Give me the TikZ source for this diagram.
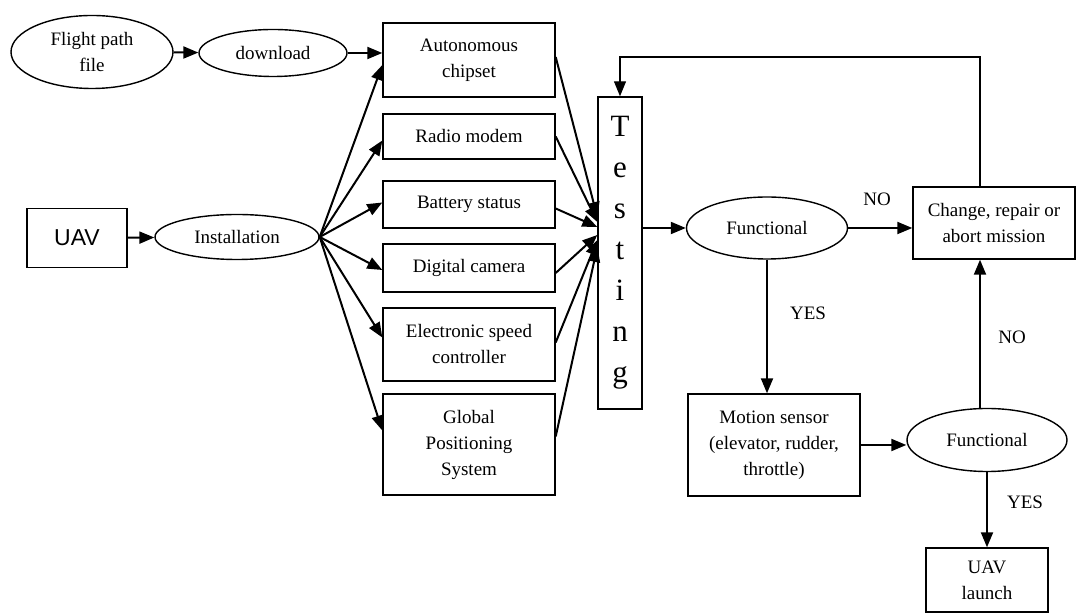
\documentclass[tikz,border=0pt]{standalone}
\usepackage{fontspec}
\setmainfont{Liberation Serif}
\newfontfamily\uavfont{Liberation Sans}
\usetikzlibrary{shapes.geometric,arrows.meta}
\begin{document}
\begin{tikzpicture}[x=0.5pt,y=-0.5pt,
  font=\fontsize{9.5}{13}\selectfont,
  box/.style={draw,line width=0.7pt,align=center,minimum width=86pt,inner sep=1pt},
  oval/.style={draw,ellipse,line width=0.7pt,align=center,inner sep=0pt},
  arr/.style={line width=1pt,-{Triangle[length=7.5pt,width=6pt]}},
  fbline/.style={line width=0.6pt,-{Triangle[length=7.5pt,width=6pt]}}]
\useasboundingbox (0,0) rectangle (1076,613);
% inputs
\node[oval,minimum width=81pt,minimum height=36.5pt] (flight) at (92,52) {Flight path\\file};
\node[oval,minimum width=74pt,minimum height=23.5pt] (download) at (273,53) {download};
\node[draw,line width=0.7pt,minimum width=50pt,minimum height=29.5pt,font=\uavfont\fontsize{11.5}{13}\selectfont] (uav) at (77,238) {UAV};
\node[oval,minimum width=82pt,minimum height=22.5pt] (install) at (237,237) {Installation};
% components
\node[box,minimum height=37pt] (chip) at (469,60) {Autonomous\\chipset};
\node[box,minimum height=22.5pt] (radio) at (469,136.5) {Radio modem};
\node[box,minimum height=23.5pt] (battery) at (469,204.5) {Battery status};
\node[box,minimum height=24pt] (camera) at (469,268) {Digital camera};
\node[box,minimum height=36.5pt] (esc) at (469,344.5) {Electronic speed\\controller};
\node[box,minimum height=50.5pt] (gps) at (469,444.5) {Global\\Positioning\\System};
% testing
\node[draw,line width=0.7pt,minimum width=22pt,minimum height=156pt,inner sep=0pt,
  align=center,font=\fontsize{15.5}{20.5}\selectfont] (test) at (620,253) {T\\e\\s\\t\\i\\n\\g};
\node[oval,minimum width=80.5pt,minimum height=31pt] (func1) at (767,228) {Functional};
\node[box,minimum width=81pt,minimum height=36pt] (change) at (994,223) {Change, repair or\\abort mission};
\node[box,minimum height=51pt] (motion) at (774,445) {Motion sensor\\(elevator, rudder,\\throttle)};
\node[oval,minimum width=80pt,minimum height=31.5pt] (func2) at (987,440) {Functional};
\node[box,minimum width=61pt,minimum height=32pt] (launch) at (987,580) {UAV\\launch};
% labels
\node (no1) at (877,199) {NO};
\node (yes1) at (808,313) {YES};
\node (no2) at (1012,337) {NO};
\node (yes2) at (1025,502) {YES};
\coordinate (fb) at (980,57);
% arrows
\draw[arr] (flight) -- (download);
\draw[arr] (download.east) -- (download.east -| chip.west);
\draw[arr] (uav) -- (install);
\draw[arr] (install.east) -- ([yshift=-2.5pt]chip.west);
\draw[arr] (install.east) -- ([yshift=-2pt]radio.west);
\draw[arr] (install.east) -- ([yshift=1pt]battery.west);
\draw[arr] (install.east) -- ([yshift=-1pt]camera.west);
\draw[arr] (install.east) -- ([yshift=3.5pt]esc.west);
\draw[arr] (install.east) -- ([yshift=7pt]gps.west);
\draw[arr] ([yshift=1.5pt]chip.east) -- ([yshift=18pt]test.west);
\draw[arr] (radio.east) -- ([yshift=15.5pt]test.west);
\draw[arr] ([yshift=-2pt]battery.east) -- ([yshift=13pt]test.west);
\draw[arr] ([yshift=-2.5pt]camera.east) -- ([yshift=9pt]test.west);
\draw[arr] ([yshift=1pt]esc.east) -- ([yshift=6.5pt]test.west);
\draw[arr] ([yshift=4pt]gps.east) -- ([yshift=3pt]test.west);
\draw[arr] (test.east |- func1.west) -- (func1.west);
\draw[arr] (func1.east) -- (func1.east -| change.west);
\draw[fbline] (change.north -| fb) -- (fb) -| (test.north);
\draw[arr] (func1.south) -- (func1.south |- motion.north);
\draw[arr] (motion.east) -- (motion.east -| func2.west);
\draw[arr] (fb |- func2.north) -- (fb |- change.south);
\draw[arr] (func2.south) -- (launch.north);
\end{tikzpicture}
\end{document}
